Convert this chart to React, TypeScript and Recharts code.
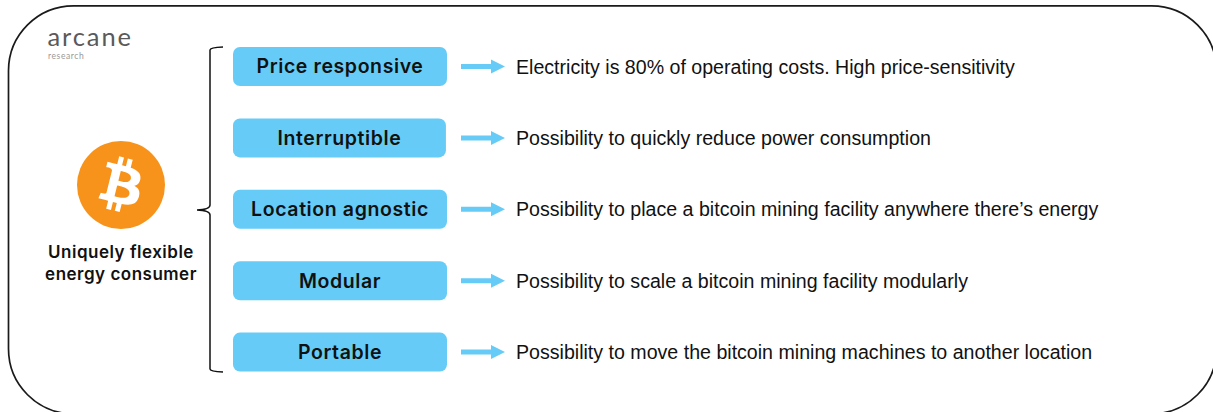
import React from "react";
import { BarChart, Bar, XAxis, YAxis, LabelList, Customized } from "recharts";

const traits = ["Price responsive", "Interruptible", "Location agnostic", "Modular", "Portable"];
const descriptions = [
  "Electricity is 80% of operating costs. High price-sensitivity",
  "Possibility to quickly reduce power consumption",
  "Possibility to place a bitcoin mining facility anywhere there’s energy",
  "Possibility to scale a bitcoin mining facility modularly",
  "Possibility to move the bitcoin mining machines to another location",
];
const weights = [1, 0.995, 1, 1, 1];
const headline = ["Uniquely flexible", "energy consumer"];

const rows = traits.map((trait, i) => ({ trait, description: descriptions[i], weight: weights[i] }));

const BLUE = "#66CCF7";
const BTC_B =
  "M2947.77 1754.38c40.72,-272.26 -166.56,-418.61 -450,-516.24l91.95 -368.8 -224.5 -55.94 -89.51 359.09c-59.02,-14.72 -119.63,-28.59 -179.87,-42.34l90.16 -361.46 -224.36 -55.94 -92 368.68c-48.84,-11.12 -96.81,-22.11 -143.35,-33.69l0.26 -1.16 -309.59 -77.31 -59.72 239.78c0,0 166.56,38.18 163.05,40.53 90.91,22.69 107.35,82.87 104.62,130.57l-104.74 420.15c6.26,1.59 14.38,3.89 23.34,7.49 -7.49,-1.86 -15.46,-3.89 -23.73,-5.87l-146.81 588.57c-11.11,27.62 -39.31,69.07 -102.87,53.33 2.25,3.26 -163.17,-40.72 -163.17,-40.72l-111.46 256.98 292.15 72.83c54.35,13.63 107.61,27.89 160.06,41.3l-92.9 373.03 224.24 55.94 92 -369.07c61.26,16.63 120.71,31.97 178.91,46.43l-91.69 367.33 224.51 55.94 92.89 -372.33c382.82,72.45 670.67,43.24 791.83,-303.02 97.63,-279.02 -4.86,-439.96 -206.44,-544.92 146.81,-33.85 257.4,-130.41 286.89,-329.87zm-512.94 719.26c-69.38,278.78 -538.76,128.08 -690.94,90.29l123.28 -494.2c152.17,37.99 640.17,113.17 567.66,403.91zm69.43 -723.3c-63.29,253.58 -453.96,124.75 -580.69,93.16l111.77 -448.21c126.73,31.59 534.85,90.55 468.92,355.05z";

function TraitRow(props: any) {
  const { x, y, width, height, payload } = props;
  const cy = y + height / 2;
  const ax = 447 + 14;
  return (
    <g>
      <rect x={x} y={y} width={width} height={height} rx={7} ry={7} fill={BLUE} />
      <path
        d={`M${ax} ${cy - 2.5}H${ax + 30}V${cy - 7}L${ax + 44} ${cy}L${ax + 30} ${cy + 7}V${cy + 2.5}H${ax}Z`}
        fill={BLUE}
      />
      <text
        x={516}
        y={cy + 7}
        fontFamily="'Liberation Sans', Arial, sans-serif"
        fontSize={19.6}
        fill="#111"
      >
        {payload?.description ?? ""}
      </text>
    </g>
  );
}

function Decor() {
  return (
    <g>
      <rect x={8.5} y={5.8} width={1208} height={408} rx={65} ry={65} fill="none" stroke="#1a1a1a" strokeWidth={1.7} />
      <text x={47.5} y={45.5} fontFamily="Lato, sans-serif" fontWeight={400} fontSize={25.5} letterSpacing={1.9} fill="#5a5a5a">
        arcane
      </text>
      <text x={48} y={59.3} fontFamily="Lato, sans-serif" fontWeight={400} fontSize={8.5} letterSpacing={0.6} fill="#999">
        research
      </text>
      <path
        d="M223 47Q210 47.5 210 50V205Q210 209.5 197 210Q210 210.5 210 215V369Q210 371.5 223 372"
        fill="none"
        stroke="#111"
        strokeWidth={1.5}
      />
      <circle cx={121} cy={185} r={44} fill="#F7931A" />
      <g transform="translate(77 141) scale(0.02151)">
        <path d={BTC_B} fill="#fff" />
      </g>
      {headline.map((line, i) => (
        <text
          key={line}
          x={121}
          y={258 + i * 21.5}
          textAnchor="middle"
          fontFamily="Inter, sans-serif"
          fontWeight={600}
          fontSize={17}
          letterSpacing={0.5}
          fill="#111"
        >
          {line}
        </text>
      ))}
    </g>
  );
}

export default function App() {
  return (
    <div style={{ position: "absolute", left: 0, top: 0, width: 1213, height: 412, overflow: "hidden", background: "#fff" }}>
      <BarChart
        width={1213}
        height={412}
        data={rows}
        layout="vertical"
        margin={{ top: 31, bottom: 24, left: 233, right: 766 }}
      >
        <XAxis type="number" domain={[0, 1]} hide />
        <YAxis type="category" dataKey="trait" hide />
        <Customized component={Decor} />
        <Bar dataKey="weight" barSize={39} isAnimationActive={false} shape={<TraitRow />}>
          <LabelList
            dataKey="trait"
            position="center"
            fill="#111"
            fontFamily="Inter, sans-serif"
            fontWeight={600}
            fontSize={19.5}
            letterSpacing={0.6}
          />
        </Bar>
      </BarChart>
    </div>
  );
}
